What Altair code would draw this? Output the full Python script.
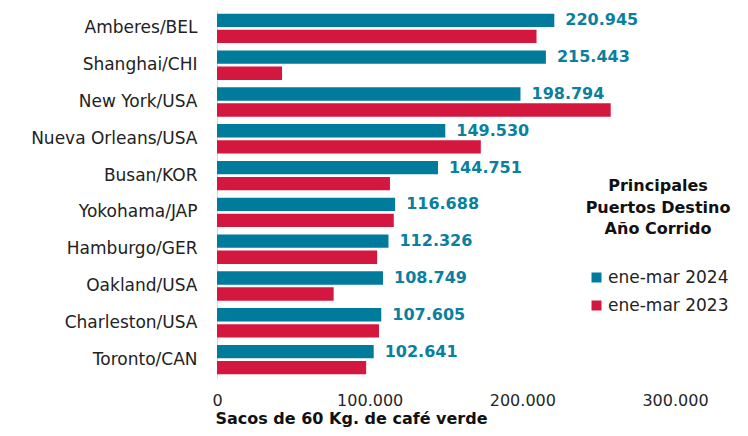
import altair as alt
import pandas as pd

puertos = ["Amberes/BEL", "Shanghai/CHI", "New York/USA", "Nueva Orleans/USA",
           "Busan/KOR", "Yokohama/JAP", "Hamburgo/GER", "Oakland/USA",
           "Charleston/USA", "Toronto/CAN"]
v2024 = [220945, 215443, 198794, 149530, 144751, 116688, 112326, 108749, 107605, 102641]
v2023 = [209300, 42600, 257900, 172800, 113300, 115800, 104900, 76400, 106100, 97700]
series = ["ene-mar 2024", "ene-mar 2023"]
colors = ["#007B9C", "#D4173E"]
x_ticks = [0, 100000, 200000, 300000]

rows = []
for p, a, b in zip(puertos, v2024, v2023):
    rows.append({"puerto": p, "serie": series[0], "valor": a})
    rows.append({"puerto": p, "serie": series[1], "valor": b})
df = pd.DataFrame(rows)

FONT = "DejaVu Sans"

base = alt.Chart(df).encode(
    y=alt.Y("puerto:N", sort=puertos,
            scale=alt.Scale(paddingInner=0.2, paddingOuter=0.1),
            axis=alt.Axis(title=None, domainColor="#D9D9D9", ticks=False,
                          labelFont=FONT, labelFontSize=17, labelColor="#222222",
                          labelPadding=20)),
    yOffset=alt.YOffset("serie:N", sort=series,
                        scale=alt.Scale(domain=series, paddingInner=0.17, paddingOuter=0)),
)

bars = base.mark_bar().encode(
    x=alt.X("valor:Q", scale=alt.Scale(domain=[0, 300000], nice=False),
            axis=alt.Axis(values=x_ticks,
                          labelExpr="replace(format(datum.value, ','), ',', '.')",
                          domain=False, ticks=False, grid=False, labelFlush=False,
                          labelFont=FONT, labelFontSize=16, labelColor="#262626",
                          labelPadding=14,
                          title="Sacos de 60 Kg. de café verde",
                          titleFont=FONT, titleFontSize=16, titleFontWeight="bold",
                          titleColor="#111111", titleX=134, titleY=45,
                          titleAlign="center", titleBaseline="alphabetic")),
    color=alt.Color("serie:N",
                    scale=alt.Scale(domain=series, range=colors),
                    legend=alt.Legend(
                        title=["Principales", "Puertos Destino", "Año Corrido"],
                        orient="none", legendX=369, legendY=168,
                        titleFont=FONT, titleFontSize=16, titleFontWeight="bold",
                        titleColor="#111111", titleLineHeight=21.5,
                        titleAnchor="middle", titleAlign="center",
                        titlePadding=32,
                        labelFont=FONT, labelFontSize=17, labelColor="#222222",
                        labelOffset=3, rowPadding=10,
                        symbolType="square", symbolSize=100, symbolStrokeWidth=0)),
)

labels = base.mark_text(
    align="left", baseline="middle", dx=11, font=FONT, fontSize=16,
    fontWeight="bold", color="#0A7F9E"
).encode(
    x=alt.X("valor:Q"),
    text=alt.Text("lbl:N"),
).transform_filter(
    alt.datum.serie == series[0]
).transform_calculate(
    lbl="replace(format(datum.valor, ','), ',', '.')"
)

chart = alt.layer(bars, labels).properties(
    width=458, height=368,
    padding={"left": 209, "top": 2, "right": 65, "bottom": 50},
    autosize=alt.AutoSizeParams(type="none"),
    background="white",
).configure_view(stroke=None)

chart.save("out.html", embed_options={"renderer": "svg", "actions": False})
